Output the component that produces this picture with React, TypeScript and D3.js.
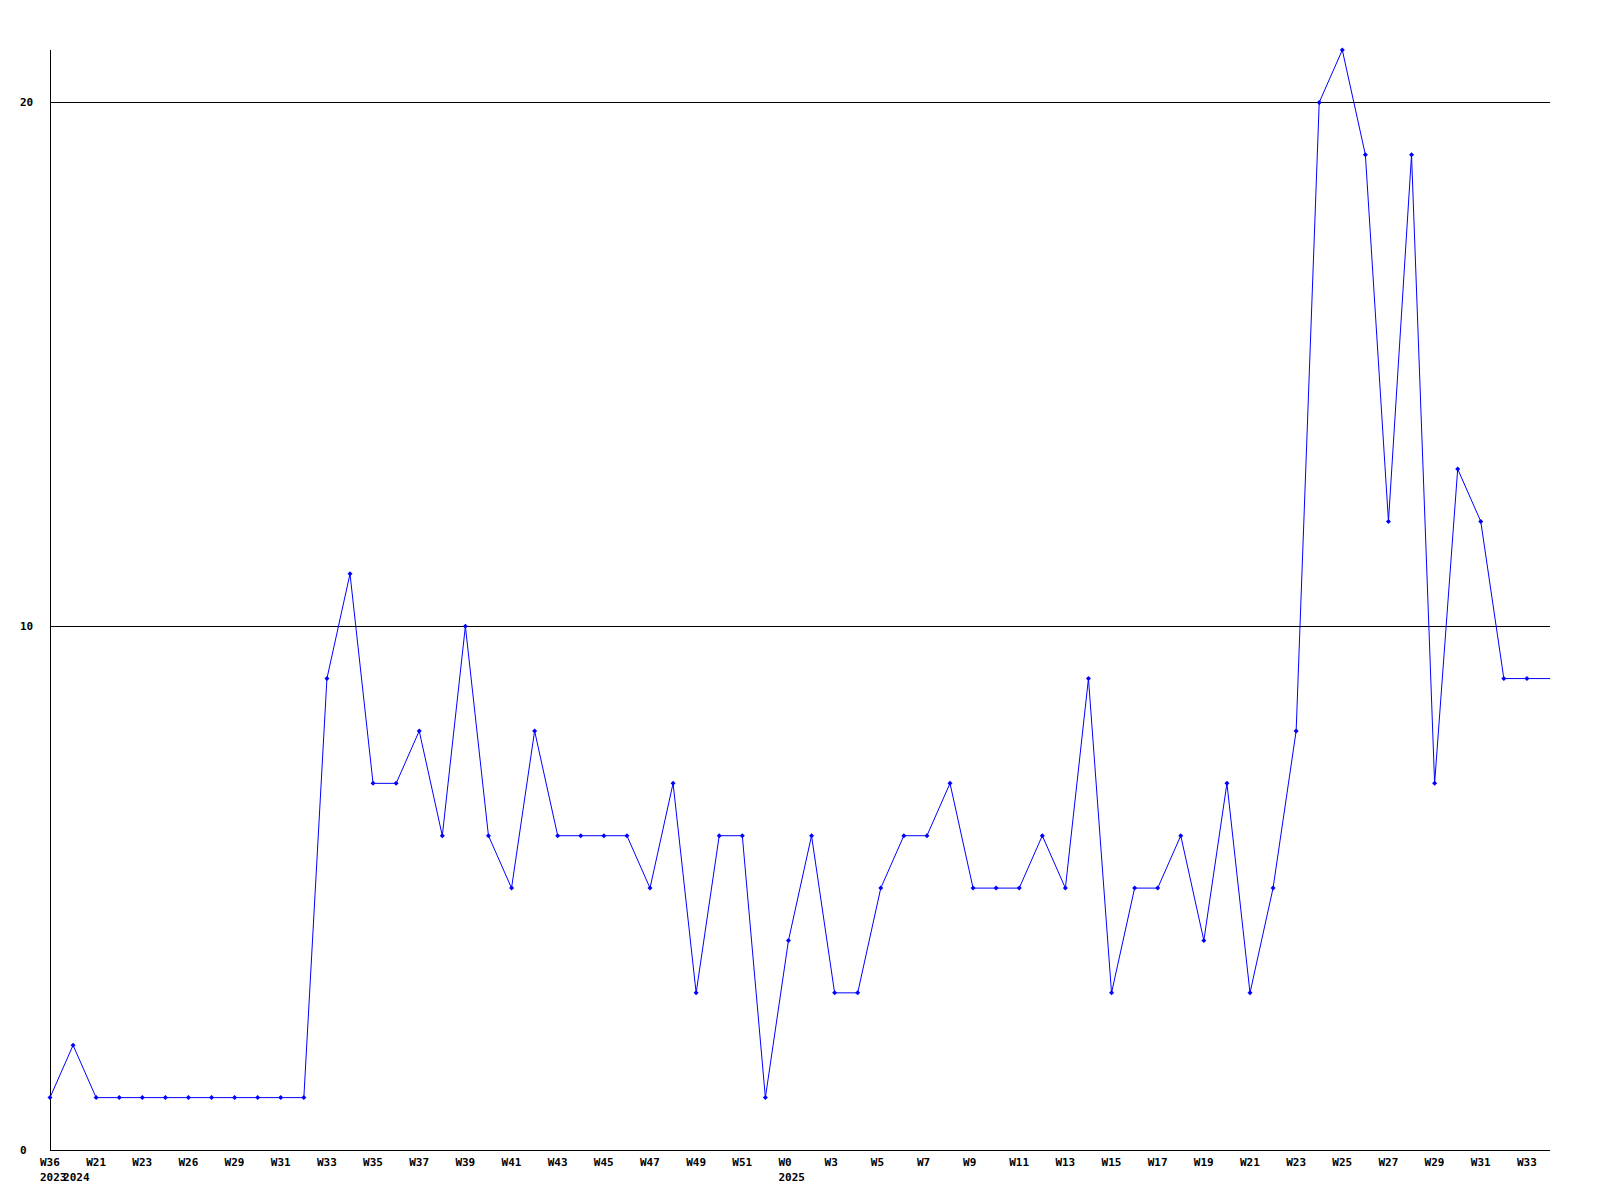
import React from "react";
import * as d3 from "d3";

const values: number[] = [
  1, 2, 1, 1, 1, 1, 1, 1, 1, 1, 1, 1, 9, 11, 7, 7, 8, 6, 10, 6,
  5, 8, 6, 6, 6, 6, 5, 7, 3, 6, 6, 1, 4, 6, 3, 3, 5, 6, 6, 7,
  5, 5, 5, 6, 5, 9, 3, 5, 5, 6, 4, 7, 3, 5, 8, 20, 21, 19, 12, 19,
  7, 13, 12, 9, 9, 9,
];

const weekLabels: string[] = [
  "W36", "", "W21", "", "W23", "", "W26", "", "W29", "", "W31", "", "W33", "", "W35", "",
  "W37", "", "W39", "", "W41", "", "W43", "", "W45", "", "W47", "", "W49", "", "W51", "",
  "W0", "", "W3", "", "W5", "", "W7", "", "W9", "", "W11", "", "W13", "", "W15", "",
  "W17", "", "W19", "", "W21", "", "W23", "", "W25", "", "W27", "", "W29", "", "W31", "",
  "W33", "",
];

const yearLabels: { index: number; text: string }[] = [
  { index: 0, text: "2023" },
  { index: 1, text: "2024" },
  { index: 32, text: "2025" },
];

const yTicks: number[] = [0, 10, 20];

export default function App() {
  const width = 1600;
  const height = 1200;
  const left = 50;
  const right = 1550;
  const top = 50;
  const bottom = 1150;

  const x = d3.scaleLinear().domain([0, values.length - 1]).range([left, right]);
  const y = d3.scaleLinear().domain([0, 21]).range([bottom, top]);

  const line = d3
    .line<number>()
    .x((_, i) => x(i))
    .y((d) => y(d));

  const font = "'DejaVu Sans Mono', monospace";

  return (
    <svg
      width={width}
      height={height}
      style={{ position: "absolute", left: 0, top: 0, background: "#fff" }}
      shapeRendering="crispEdges"
    >
      <rect x={0} y={0} width={width} height={height} fill="#fff" />
      {yTicks
        .filter((t) => t > 0)
        .map((t) => (
          <line key={t} x1={left} x2={right} y1={Math.round(y(t)) + 0.5} y2={Math.round(y(t)) + 0.5} stroke="#000" strokeWidth={1} />
        ))}
      <line x1={left + 0.5} x2={left + 0.5} y1={top} y2={bottom} stroke="#000" />
      <line x1={left} x2={right} y1={bottom + 0.5} y2={bottom + 0.5} stroke="#000" />
      {yTicks.map((t) => (
        <text
          key={t}
          x={20}
          y={y(t) + 4}
          fontFamily={font}
          fontWeight="bold"
          fontSize={11}
          fill="#000"
        >
          {t}
        </text>
      ))}
      {weekLabels.map((l, i) =>
        l ? (
          <text key={i} x={x(i) - 10} y={bottom + 16} fontFamily={font} fontWeight="bold" fontSize={11} fill="#000">
            {l}
          </text>
        ) : null
      )}
      {yearLabels.map((yl) => (
        <text key={yl.text} x={x(yl.index) - 10} y={bottom + 31} fontFamily={font} fontWeight="bold" fontSize={11} fill="#000">
          {yl.text}
        </text>
      ))}
      <path d={line(values) || ""} fill="none" stroke="#0000ff" strokeWidth={1} shapeRendering="auto" />
      {values.slice(0, values.length - 1).map((v, i) => {
        const cx = x(i);
        const cy = y(v);
        return (
          <path
            key={i}
            d={`M${cx - 2.5},${cy}L${cx},${cy - 2.5}L${cx + 2.5},${cy}L${cx},${cy + 2.5}Z`}
            fill="#0000ff"
            stroke="none"
            shapeRendering="auto"
          />
        );
      })}
    </svg>
  );
}
